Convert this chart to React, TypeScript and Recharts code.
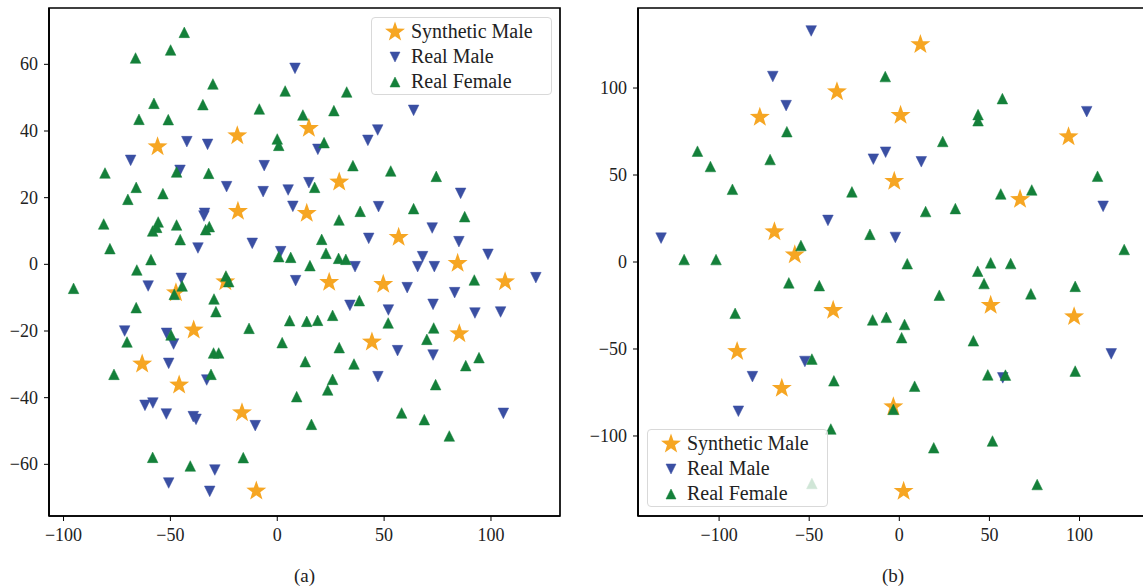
import { ReferenceArea, Scatter, ScatterChart, XAxis, YAxis } from 'recharts'

// (a) left panel
const leftSynthetic = [
  [-56, 35.3], [-18.7, 38.6], [14.8, 40.8], [-18.4, 15.9], [13.8, 15.3], [29, 24.7], [56.8, 8.1],
  [84.4, 0.3], [-47.4, -8.5], [-24.3, -5.2], [24.3, -5.4], [49.6, -6], [106.6, -5.2], [-39.1, -19.7],
  [-63.2, -29.9], [-45.9, -36.2], [-16.5, -44.5], [-9.8, -68], [44.3, -23.3], [85.2, -20.8],
]
const leftRealMale = [
  [8.3, 58.8], [-42.3, 36.8], [-32.6, 36], [-68.6, 31.2], [-45.5, 28.2], [-6.1, 29.6], [-23.7, 23.3],
  [-6.6, 21.8], [5.1, 22.3], [14.8, 24.5], [7.3, 17.4], [-34, 15.3], [-34.3, 14.5], [-37.1, 4.9],
  [-11.7, 6.3], [1.6, 3.8], [63.8, 46.2], [19, 34.5], [42.4, 37.2], [47, 40.3], [85.8, 21.3],
  [47.4, 17.3], [42.8, 7.8], [72.5, 10.9], [85, 6.8], [98.6, 3], [36.4, -0.7], [68, 2.3], [65.7, -0.7],
  [73.5, -0.7], [-60.4, -6.5], [-44.9, -4.2], [8.6, -4.9], [-71.4, -20], [-51.8, -20.7], [-48.5, -23.9],
  [-50.8, -29.7], [-33, -34.7], [-61.9, -42.3], [-58.2, -41.6], [-51.9, -44.9], [-39.3, -45.7],
  [-38, -46.5], [-10.3, -48.4], [-29.2, -61.7], [-50.8, -65.6], [-31.6, -68.1], [60.8, -7], [121, -4],
  [83, -8.5], [72.9, -12], [92.5, -14.6], [104.5, -14.3], [34, -12.3], [52, -13.7], [56.3, -25.9],
  [72.9, -27.2], [47.1, -33.7], [105.8, -44.7],
]
const leftRealFemale = [
  [-43.5, 69.6], [-49.9, 64.3], [-66.3, 61.9], [-30.1, 54.1], [3.7, 52], [-57.7, 48.3], [-34.8, 47.9],
  [-8.4, 46.6], [-64.7, 43.5], [-51, 43.4], [12, 44.8], [0, 37.6], [0.7, 35.7], [-80.6, 27.4],
  [-47.1, 27.7], [-32.1, 27.3], [-66, 23.1], [-69.9, 19.5], [-53.5, 21.2], [-81.2, 12.1], [-55.7, 12.7],
  [-56.4, 11.1], [-58.3, 10], [-47.1, 11.8], [-33.5, 10.4], [-31.8, 11.3], [-78.3, 4.7], [-45.4, 7.4],
  [0.7, 2.3], [6.3, 2.1], [-59.1, 1.4], [-65.7, -1.7], [32.5, 51.7], [26.5, 46.1], [21.9, 36.5],
  [35.4, 29.6], [53.1, 28], [74.4, 26.4], [17.5, 23.1], [28.9, 13.3], [38.8, 15.9], [63.8, 16.7],
  [87.7, 14.3], [20.8, 7.5], [22.8, 3.3], [28.7, 1.8], [32.1, 1.5], [15.3, -0.4], [-95.3, -7.2],
  [-48.2, -9], [-44.5, -6.5], [-24, -3.5], [-22.7, -5.2], [-29.6, -10.4], [-28.7, -14.2], [-66, -13],
  [-13.2, -19.2], [5.8, -16.9], [13.8, -17.1], [2.3, -23.5], [13.1, -29.2], [-70.3, -23.3],
  [-49.7, -21.2], [-29.8, -26.6], [-27.4, -26.6], [-76.4, -33], [-31, -33], [9.1, -39.7], [16, -48],
  [-58.3, -57.9], [-40.7, -60.5], [-15.9, -58], [38.4, -10.9], [92.2, -4.7], [51.9, -17.6],
  [25.9, -15.3], [18.9, -16.8], [73.2, -19.1], [70, -22.5], [29, -25], [35.9, -29.9], [94.4, -28],
  [88.2, -30.4], [25.9, -34.5], [23.6, -37.7], [74.1, -36.1], [58.2, -44.6], [68.8, -46.6], [80.5, -51.5],
]

// (b) right panel
const rightSynthetic = [
  [-34.6, 97.9], [-77.4, 83.2], [-2.8, 46.4], [-69.3, 17.4], [-58, 4.1], [11.7, 125], [0.7, 84.3],
  [93.9, 72], [67, 36], [-36.7, -27.8], [-90, -51.4], [-65.2, -72.6], [-3.3, -83.2], [50.7, -24.9],
  [97, -31.4], [2.4, -131.8],
]
const rightRealMale = [
  [-48.9, 132.8], [-70.2, 106.6], [-62.8, 89.9], [-14.4, 59.1], [-7.6, 63.1], [-39.6, 23.9],
  [-132.2, 13.7], [104, 86.4], [12.2, 57.6], [113.1, 32], [-2.2, 14.1], [-52.4, -57.2], [-81.5, -65.9],
  [-89.3, -85.8], [117.6, -52.8], [57.4, -66.6],
]
const rightRealFemale = [
  [-62.4, 74.9], [-7.8, 106.6], [-112, 63.7], [-104.8, 54.9], [-71.7, 58.9], [-92.6, 41.8],
  [-26.3, 40.3], [-16.3, 15.9], [-54.6, 9.5], [-119.4, 1.4], [-101.7, 1.4], [57.2, 93.9], [43.7, 84.7],
  [43.7, 81.2], [24.1, 69.3], [110, 49.3], [56.3, 39.1], [73.5, 41.4], [14.6, 29], [31.1, 30.7],
  [124.8, 7.2], [4.4, -1], [-61.3, -12], [-44.4, -13.6], [-91.1, -29.5], [-14.8, -33.3], [-7.2, -31.8],
  [-48.5, -55.8], [-36.3, -68.3], [-38, -96], [-48.5, -127.3], [50.7, -0.5], [61.8, -0.9], [43.5, -5.3],
  [47, -12.4], [22.2, -19.1], [73, -18.3], [97.6, -14], [2.9, -35.9], [1.3, -43.5], [41.1, -45.3],
  [49.1, -64.9], [58.9, -65], [97.6, -62.7], [8.5, -71.4], [-3.3, -84.7], [19.1, -106.8],
  [51.7, -102.9], [76.5, -127.9],
]

const xTicks = [-100, -50, 0, 50, 100]
const leftYTicks = [-60, -40, -20, 0, 20, 40, 60]
const rightYTicks = [-100, -50, 0, 50, 100]
const seriesNames = ['Synthetic Male', 'Real Male', 'Real Female']

const ORANGE = '#f6a623'
const BLUE = '#3a4fa3'
const GREEN = '#14803a'
const FONT = '"Liberation Serif", "DejaVu Serif", serif'

const toPoints = (rows: number[][]) => rows.map(([x, y]) => ({ x, y }))
const minus = (v: number) => String(v).replace('-', '\u2212')

function Star({ cx, cy, r = 10.5, fill = ORANGE }: any) {
  const pts: string[] = []
  for (let i = 0; i < 10; i++) {
    const rad = i % 2 ? r * 0.4 : r
    const a = -Math.PI / 2 + (i * Math.PI) / 5
    pts.push(`${cx + rad * Math.cos(a)},${cy + rad * Math.sin(a)}`)
  }
  return <polygon points={pts.join(' ')} fill={fill} />
}

function Tri({ cx, cy, s = 5.3, down = false, fill }: any) {
  const d = down ? -1 : 1
  const pts = `${cx},${cy - d * s} ${cx - s},${cy + d * s} ${cx + s},${cy + d * s}`
  return <polygon points={pts} fill={fill} stroke={fill} strokeWidth={0.5} />
}

function XTick({ x, y, payload }: any) {
  return (
    <text x={x} y={y} dy="0.75em" textAnchor="middle" fill="#222" fontSize={18} style={{ fontFamily: FONT }}>
      {minus(payload.value)}
    </text>
  )
}

function YTick({ x, y, payload }: any) {
  return (
    <text x={x} y={y} dy="0.33em" textAnchor="end" fill="#222" fontSize={18} style={{ fontFamily: FONT }}>
      {minus(payload.value)}
    </text>
  )
}

function LegendBox({ left, top }: any) {
  const icons = [
    <Star cx={12} cy={12} r={10.5} />,
    <Tri cx={12} cy={12} s={5} down fill={BLUE} />,
    <Tri cx={12} cy={12} s={5} fill={GREEN} />,
  ]
  return (
    <div
      style={{
        position: 'absolute',
        left,
        top,
        width: 181,
        height: 78,
        boxSizing: 'border-box',
        paddingTop: 1,
        border: '1px solid #d9d9d9',
        borderRadius: 4,
        background: 'rgba(255,255,255,0.8)',
        fontFamily: FONT,
        fontSize: 20,
        color: '#222',
      }}
    >
      {seriesNames.map((name, i) => (
        <div key={name} style={{ display: 'flex', alignItems: 'center', height: 25 }}>
          <svg width={24} height={24} style={{ marginLeft: 11, marginRight: 4 }}>
            {icons[i]}
          </svg>
          <span style={{ lineHeight: '25px' }}>{name}</span>
        </div>
      ))}
    </div>
  )
}

function Panel({ synthetic, realMale, realFemale, xDomain, yDomain, yTicks, yAxisWidth, rightMargin, caption }: any) {
  const axisLine = { stroke: '#000', strokeWidth: 1.7 }
  return (
    <ScatterChart width={570} height={587} margin={{ top: 8, right: rightMargin, bottom: 0, left: 0 }} style={{ fontFamily: FONT }}>
      <XAxis
        type="number"
        dataKey="x"
        domain={xDomain}
        ticks={xTicks}
        allowDataOverflow
        height={71}
        tickSize={5}
        tickMargin={6}
        tick={<XTick />}
        tickLine={{ stroke: '#000' }}
        axisLine={axisLine}
        label={{ value: caption, position: 'insideBottom', offset: 5, fill: '#222', fontSize: 19, fontFamily: FONT }}
      />
      <YAxis
        type="number"
        dataKey="y"
        domain={yDomain}
        ticks={yTicks}
        allowDataOverflow
        width={yAxisWidth}
        tickSize={5}
        tickMargin={6}
        tick={<YTick />}
        tickLine={{ stroke: '#000' }}
        axisLine={axisLine}
      />
      <ReferenceArea
        x1={xDomain[0]}
        x2={xDomain[1]}
        y1={yDomain[0]}
        y2={yDomain[1]}
        fill="none"
        fillOpacity={0}
        stroke="#000"
        strokeWidth={1.7}
        ifOverflow="visible"
      />
      <Scatter name={seriesNames[0]} data={toPoints(synthetic)} fill={ORANGE} shape={(p: any) => <Star cx={p.cx} cy={p.cy} />} isAnimationActive={false} />
      <Scatter name={seriesNames[1]} data={toPoints(realMale)} fill={BLUE} shape={(p: any) => <Tri cx={p.cx} cy={p.cy} down fill={BLUE} />} isAnimationActive={false} />
      <Scatter name={seriesNames[2]} data={toPoints(realFemale)} fill={GREEN} shape={(p: any) => <Tri cx={p.cx} cy={p.cy} fill={GREEN} />} isAnimationActive={false} />
    </ScatterChart>
  )
}

export default function App() {
  return (
    <div style={{ position: 'fixed', left: 0, top: 0, width: 1143, height: 587, overflow: 'hidden', background: '#fff' }}>
      <div style={{ position: 'absolute', left: 0, top: 0 }}>
        <Panel
          synthetic={leftSynthetic}
          realMale={leftRealMale}
          realFemale={leftRealFemale}
          xDomain={[-106.8, 132.3]}
          yDomain={[-75.5, 76.9]}
          yTicks={leftYTicks}
          yAxisWidth={49}
          rightMargin={10}
          caption="(a)"
        />
        <LegendBox left={371} top={17} />
      </div>
      <div style={{ position: 'absolute', left: 580, top: 0 }}>
        <Panel
          synthetic={rightSynthetic}
          realMale={rightRealMale}
          realFemale={rightRealFemale}
          xDomain={[-145, 138]}
          yDomain={[-146, 146]}
          yTicks={rightYTicks}
          yAxisWidth={58}
          rightMargin={2}
          caption="(b)"
        />
        <LegendBox left={67} top={429} />
      </div>
    </div>
  )
}
